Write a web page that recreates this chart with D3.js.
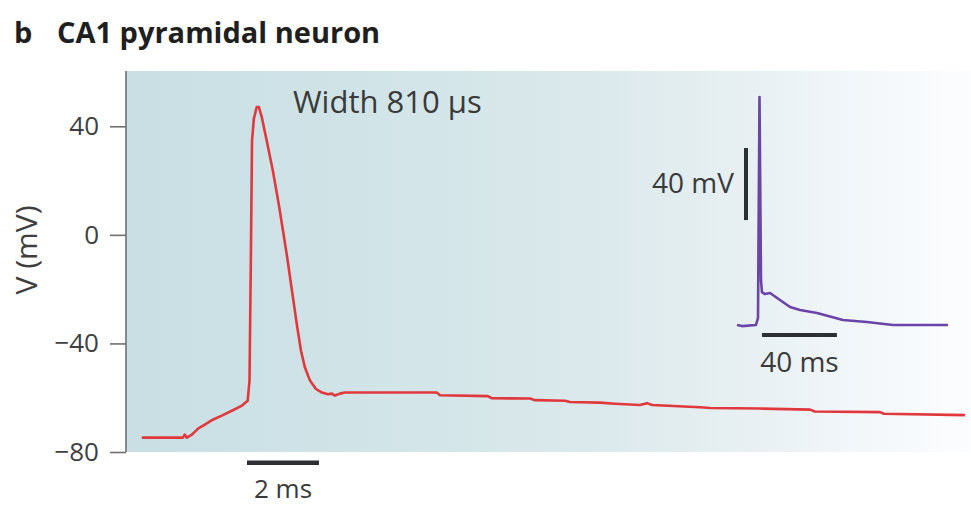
<!DOCTYPE html>
<html>
<head>
<meta charset="utf-8">
<script src="https://cdn.jsdelivr.net/npm/d3@7"></script>
<style>
  html, body { margin: 0; padding: 0; background: #ffffff; }
  svg { display: block; font-family: "Open Sans", "DejaVu Sans", sans-serif; }
</style>
</head>
<body>
<svg id="chart" width="971" height="513"></svg>
<script>
// Main trace: CA1 pyramidal neuron action potential (time in ms, membrane potential in mV)
const mainTime = [0, 1.14, 1.19, 1.25, 1.39, 1.56, 1.75, 1.97, 2.22, 2.50, 2.78, 2.94,
  2.99, 3.03, 3.06, 3.11, 3.19, 3.25, 3.33, 3.47, 3.64, 3.81, 3.92, 4.03, 4.17, 4.31,
  4.42, 4.53, 4.67, 4.83, 5.00, 5.17, 5.28, 5.36, 5.50, 5.64, 8.19, 8.28, 9.61, 9.72,
  10.78, 10.92, 11.75, 11.89, 12.72, 13.14, 13.83, 14.03, 14.17, 15.50, 15.78, 17.17,
  18.56, 18.69, 20.50, 20.61, 22.86];
const mainVolt = [-74.7, -74.7, -73.6, -74.7, -73.6, -71.4, -69.9, -68.1, -66.6, -64.8, -62.9, -61.1,
  -53.7, -5.9, 34.6, 42.7, 47.1, 47.1, 43.4, 34.6, 23.5, 10.7, 1.5, -7.7, -20.6, -33.5,
  -42.7, -48.9, -53.7, -56.7, -58.1, -58.7, -58.5, -59.2, -58.5, -58.1, -58.1, -59.1, -59.4, -60.2,
  -60.3, -60.9, -61.1, -61.6, -61.8, -62.2, -62.7, -62.0, -62.7, -63.5, -63.8, -64.0,
  -64.4, -65.1, -65.3, -65.9, -66.4];

// Inset: spike with slow after-depolarisation on a longer time base
const insetTime = [-11.2, -8.5, -1.1, 0, 0.8, 1.6, 2.1, 3.7, 6.4, 11.7, 17.1, 22.4, 31.5, 45.3, 58.1, 72.0, 101.3];
const insetVolt = [-66, -66.6, -66, -62.1, 60.7, -41, -47.7, -48.8, -48.2, -52.1, -56, -57.7, -59.3, -63.2, -64.3, -66, -66];

// Axis ticks and labels
const yTicks = [-80, -40, 0, 40];
const titleLetter = "b";
const titleText = "CA1 pyramidal neuron";
const widthLabel = "Width 810 \u00b5s";
const yLabel = "V (mV)";
const mainBarLabel = "2 ms";
const insetVBarLabel = "40 mV";
const insetTBarLabel = "40 ms";

// Scale bar extents (data units)
const mainBar = { start: 2.92, length: 2, volt: -84 };
const insetTBar = { start: 2.1, length: 40, volt: -71.5 };
const insetVBar = { time: -6.4, start: -7.7, length: 40 };

const svg = d3.select("#chart");

const plot = { left: 126, right: 971, top: 71, bottom: 452 };

const x = d3.scaleLinear().domain([-0.44, 23.0]).range([plot.left, 970]);
const y = d3.scaleLinear().domain([-80, 60]).range([plot.bottom, 72]);

const ix = d3.scaleLinear().domain([0, 40]).range([758, 833]);
const iy = d3.scaleLinear().domain([-66, -26]).range([325, 253]);

// Background panel fading from pale teal to white
const defs = svg.append("defs");
const grad = defs.append("linearGradient").attr("id", "bg").attr("x1", "0").attr("x2", "1").attr("y1", "0").attr("y2", "0");
[[0, "#c9dfe4"], [0.3, "#d1e4e8"], [0.55, "#dbe9ec"], [0.74, "#e8f0f3"], [0.87, "#f2f7fa"], [1, "#fcfdfe"]]
  .forEach(([o, c]) => grad.append("stop").attr("offset", o).attr("stop-color", c));

svg.append("rect")
  .attr("x", plot.left).attr("y", plot.top)
  .attr("width", plot.right - plot.left).attr("height", plot.bottom - plot.top)
  .attr("fill", "url(#bg)");

// Y axis
const yAxis = d3.axisLeft(y).tickValues(yTicks).tickSize(16).tickSizeOuter(0).tickPadding(11);
const gy = svg.append("g").attr("transform", `translate(${plot.left},0)`).call(yAxis);
gy.select(".domain").attr("stroke", "#6f6f6f").attr("stroke-width", 1.6)
  .attr("d", `M0,${plot.top}V${plot.bottom}`);
gy.selectAll(".tick line").attr("stroke", "#6f6f6f").attr("stroke-width", 1.6);
gy.selectAll(".tick text").attr("fill", "#3f3f3f").attr("font-size", 26)
  .attr("font-family", "'Open Sans', sans-serif");

svg.append("text")
  .attr("transform", "translate(37,250) rotate(-90)")
  .attr("text-anchor", "middle")
  .attr("font-size", 30)
  .attr("fill", "#3f3f3f")
  .text(yLabel);

// Main trace
const mainData = mainTime.map((t, i) => ({ t, v: mainVolt[i] }));
svg.append("path")
  .datum(mainData)
  .attr("fill", "none")
  .attr("stroke", "#e0393d")
  .attr("stroke-width", 2.6)
  .attr("stroke-linejoin", "round")
  .attr("d", d3.line().x(d => x(d.t)).y(d => y(d.v)));

// Main time scale bar
svg.append("line")
  .attr("x1", x(mainBar.start)).attr("x2", x(mainBar.start + mainBar.length))
  .attr("y1", y(mainBar.volt)).attr("y2", y(mainBar.volt))
  .attr("stroke", "#2b2f33").attr("stroke-width", 4.5);
svg.append("text")
  .attr("x", x(mainBar.start + mainBar.length / 2)).attr("y", 498)
  .attr("text-anchor", "middle").attr("font-size", 26).attr("fill", "#3a3a3a")
  .text(mainBarLabel);

// Inset trace
const insetData = insetTime.map((t, i) => ({ t, v: insetVolt[i] }));
svg.append("path")
  .datum(insetData)
  .attr("fill", "none")
  .attr("stroke", "#6a44a6")
  .attr("stroke-width", 2.6)
  .attr("stroke-linejoin", "round")
  .attr("d", d3.line().x(d => ix(d.t)).y(d => iy(d.v)));

// Inset scale bars
svg.append("line")
  .attr("x1", ix(insetVBar.time)).attr("x2", ix(insetVBar.time))
  .attr("y1", iy(insetVBar.start)).attr("y2", iy(insetVBar.start + insetVBar.length))
  .attr("stroke", "#2b2f33").attr("stroke-width", 4);
svg.append("text")
  .attr("x", ix(insetVBar.time) - 12).attr("y", 193)
  .attr("text-anchor", "end").attr("font-size", 28).attr("fill", "#3a3a3a")
  .text(insetVBarLabel);

svg.append("line")
  .attr("x1", ix(insetTBar.start)).attr("x2", ix(insetTBar.start + insetTBar.length))
  .attr("y1", iy(insetTBar.volt)).attr("y2", iy(insetTBar.volt))
  .attr("stroke", "#2b2f33").attr("stroke-width", 4);
svg.append("text")
  .attr("x", ix(insetTBar.start + insetTBar.length / 2)).attr("y", 372)
  .attr("text-anchor", "middle").attr("font-size", 28).attr("fill", "#3a3a3a")
  .text(insetTBarLabel);

// Spike width annotation
svg.append("text")
  .attr("x", 293).attr("y", 113)
  .attr("font-size", 31).attr("fill", "#3a3a3a")
  .text(widthLabel);

// Panel title
svg.append("text")
  .attr("x", 14).attr("y", 43)
  .attr("font-size", 29).attr("font-weight", "bold").attr("fill", "#1f1f1f")
  .text(titleLetter);
svg.append("text")
  .attr("x", 57).attr("y", 43)
  .attr("font-size", 29).attr("font-weight", "bold").attr("fill", "#1f1f1f")
  .text(titleText);
</script>
</body>
</html>
